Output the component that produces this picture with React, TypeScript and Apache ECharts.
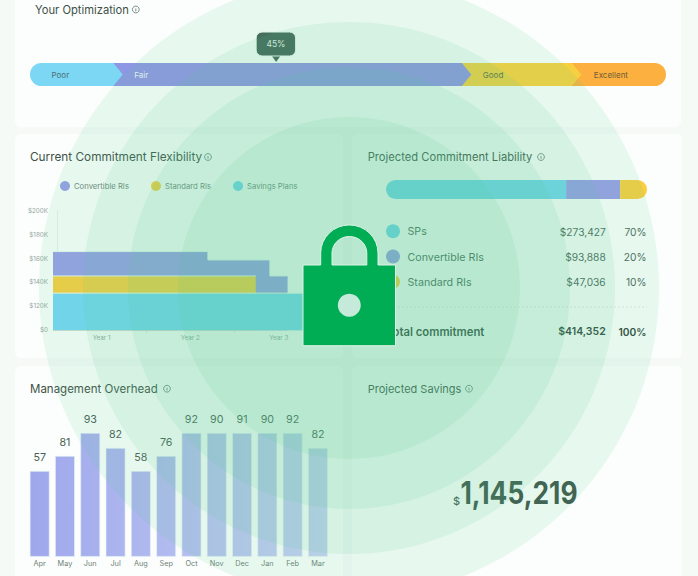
import React, { useEffect, useRef } from "react";
import * as echarts from "echarts";

const FONT = "Inter, 'Noto Sans', sans-serif";

// ---- data
const optimizationNames = ["Poor", "Fair", "Good", "Excellent"];
const optimizationStarts = [0, 13.1, 67.9, 85.2];
const optimizationEnds = [13.1, 67.9, 85.2, 100];
const optimizationColors = ["#7BD7F4", "#8F96E4", "#F6D040", "#FBB040"];
const optimizationTextColors = ["#4F6F72", "#EEF4F6", "#5F6E45", "#6E5E33"];
const optimizationMarker = [38.7];
const optimizationMarkerLabel = "45%";

const flexibilitySeriesNames = ["Convertible RIs", "Standard RIs", "Savings Plans"];
const convertibleSteps = [[-0.05, 165.8], [1.7, 158.8], [2.4, 145.4], [2.6, 145.4]];
const standardSteps = [[-0.05, 145.4], [2.24, 145.4]];
const savingsSteps = [[-0.05, 131], [3, 131]];
const yearLabels = ["Year 1", "Year 2", "Year 3"];
const flexibilityTicks = ["$0", "$120K", "$140K", "$160K", "$180K", "$200K"];

const liabilityNames = ["SPs", "Convertible RIs", "Standard RIs"];
const liabilityShares = [69, 20.7, 10.3];
const liabilityDollars = ["$273,427", "$93,888", "$47,036"];
const liabilityPercents = ["70%", "20%", "10%"];
const totalDollars = "$414,352";
const totalPercent = "100%";

const months = ["Apr", "May", "Jun", "Jul", "Aug", "Sep", "Oct", "Nov", "Dec", "Jan", "Feb", "Mar"];
const overheadLabels = [57, 81, 93, 82, 58, 76, 92, 90, 91, 90, 92, 82];
const overheadHeights = [64.4, 75.7, 93, 81.7, 64.4, 75.7, 93, 93, 93, 93, 93, 81.7];

const savingsTotal = "1,145,219";

const ringRadii = [310, 266, 221, 171];

// ---- colours
const CONV = "#989EE8";
const STD = "#FACE40";
const SAV = "#75D5F4";
const SP = "#74D6F0";
const CARD = "#FBFEFC";
const INK = "#3F5047";
const GREEN = "#00AD55";
const RING = "#56CC94";

echarts.graphic.registerShape(
  "padlock",
  echarts.graphic.extendPath(
    "M303 265 H320.7 V253 A28.65 28 0 0 1 378 253 V265 H395.5 V345.7 H303 Z M332 265 H366.8 V253 A17.4 16.5 0 0 0 332 253 Z",
    {}
  )
);

const text = (
  x: number,
  y: number,
  value: string,
  size: number,
  fill: string,
  weight: number = 400,
  align: string = "left"
) => ({
  type: "text",
  x,
  y,
  z: 10,
  silent: true,
  style: {
    text: value,
    fill,
    font: `${weight} ${size}px ${FONT}`,
    textAlign: align,
    textVerticalAlign: "middle",
  },
});

const card = (x: number, y: number, width: number, height: number) => ({
  type: "rect",
  z: -10,
  silent: true,
  shape: { x, y, width, height, r: 6 },
  style: { fill: CARD },
});

const infoIcon = (cx: number, cy: number) => ({
  type: "group",
  z: 10,
  silent: true,
  children: [
    { type: "circle", z: 10, shape: { cx, cy, r: 3.4 }, style: { fill: "none", stroke: "#5D7267", lineWidth: 0.8 } },
    { type: "line", z: 10, shape: { x1: cx, y1: cy - 1, x2: cx, y2: cy + 1.8 }, style: { stroke: "#5D7267", lineWidth: 0.8 } },
    { type: "circle", z: 10, shape: { cx, cy: cy - 1.9, r: 0.45 }, style: { fill: "#5D7267" } },
  ],
});

const segmentPath = (i: number, x0: number, x1: number, y0: number, y1: number) => {
  const r = (y1 - y0) / 2;
  const tip = 9.5;
  const mid = (y0 + y1) / 2;
  if (i === 0) {
    return `M${x0 + r} ${y0} H${x1} L${x1 + tip} ${mid} L${x1} ${y1} H${x0 + r} A${r} ${r} 0 0 1 ${x0 + r} ${y0} Z`;
  }
  if (i === optimizationNames.length - 1) {
    return `M${x0} ${y0} H${x1 - r} A${r} ${r} 0 0 1 ${x1 - r} ${y1} H${x0} Z`;
  }
  return `M${x0} ${y0} H${x1} L${x1 + tip} ${mid} L${x1} ${y1} H${x0} Z`;
};

const labelOffsets = [21.5, 21, 21, 22];

const buildOption = () => {
  const segmentData = optimizationNames
    .map((_, i) => [optimizationStarts[i], optimizationEnds[i], i])
    .reverse();

  const graphics: any[] = [
    card(15, -12, 666, 139),
    card(15, 134, 328, 224),
    card(352, 134, 330, 224),
    card(15, 366, 328, 230),
    card(352, 366, 330, 230),

    text(35, 9.5, "Your Optimization", 11.2, INK),
    infoIcon(135.8, 9.5),
    text(30, 157, "Current Commitment Flexibility", 11.8, INK),
    infoIcon(208, 157),
    text(367.7, 157, "Projected Commitment Liability", 11.2, INK),
    infoIcon(541, 157),
    text(30, 388.7, "Management Overhead", 11.5, INK),
    infoIcon(167, 388.7),
    text(367.7, 388.7, "Projected Savings", 11, INK),
    infoIcon(469, 388.7),

    { type: "line", z: 10, silent: true, shape: { x1: 386, y1: 307, x2: 647, y2: 307 }, style: { stroke: "#D5E3DC", lineWidth: 0.7, lineDash: [2, 2] } },
    text(386, 331.7, "Total commitment", 11.3, "#31463B", 600),
    text(605.7, 331.7, totalDollars, 10.5, "#31463B", 600, "right"),
    text(646.5, 331.7, totalPercent, 10.2, "#31463B", 600, "right"),

    text(460, 500.5, "$", 11, "#475E52", 500, "right"),
    { ...text(460.5, 492.5, savingsTotal, 31, "#3F574B", 700), scaleX: 0.85 },
  ];

  liabilityNames.forEach((name, i) => {
    const y = 231.7 + i * 25.3;
    graphics.push({
      type: "circle",
      z: 10,
      silent: true,
      shape: { cx: 393, cy: y - 0.5, r: 7 },
      style: { fill: [SP, CONV, STD][i] },
    });
    graphics.push(text(407.5, y, name, 10.7, "#4C665A"));
    graphics.push(text(605.7, y, liabilityDollars[i], 10.2, "#4C665A", 400, "right"));
    graphics.push(text(646.5, y, liabilityPercents[i], 10.2, "#4C665A", 400, "right"));
  });

  ringRadii.forEach((r) => {
    graphics.push({
      type: "circle",
      z: 50,
      silent: true,
      shape: { cx: 349, cy: 288, r },
      style: { fill: RING, opacity: 0.118 },
    });
  });
  graphics.push({
    type: "padlock",
    z: 60,
    silent: true,
    style: { fill: GREEN, stroke: "#DDF2E7", lineWidth: 1 },
  });
  graphics.push({
    type: "circle",
    z: 61,
    silent: true,
    shape: { cx: 349.3, cy: 305.3, r: 11.5 },
    style: { fill: "#C6EAD9" },
  });

  return {
    animation: false,
    backgroundColor: "#F5FAF7",
    textStyle: { fontFamily: FONT },
    graphic: { elements: graphics },
    legend: {
      left: 60,
      top: 181,
      padding: 0,
      itemWidth: 10,
      itemHeight: 10,
      itemGap: 22,
      selectedMode: false,
      icon: "circle",
      data: flexibilitySeriesNames,
      textStyle: { fontSize: 7.7, color: "#70867B", padding: [0, 0, 0, -1] },
    },
    grid: [
      { left: 30, top: 63, width: 636, height: 23 },
      { left: 53, top: 210.7, width: 270, height: 119.5 },
      { left: 386, top: 180, width: 261, height: 19 },
      { left: 27, top: 423.7, width: 303.6, height: 133 },
    ],
    xAxis: [
      { gridIndex: 0, type: "value", min: 0, max: 100, show: false },
      {
        gridIndex: 1,
        type: "value",
        min: -0.05,
        max: 3,
        splitLine: { show: false },
        axisLine: { show: true, onZero: false, lineStyle: { color: "#E3ECE7", width: 0.8 } },
        axisTick: { show: true, customValues: [1, 2], length: 2, lineStyle: { color: "#C9D8D0", width: 0.8 } },
        axisLabel: {
          customValues: [0.5, 1.5, 2.5],
          formatter: (v: number) => yearLabels[Math.floor(v)],
          fontSize: 6.3,
          color: "#93A69C",
          margin: 5,
        },
      },
      { gridIndex: 2, type: "value", min: 0, max: 100, show: false },
      {
        gridIndex: 3,
        type: "category",
        data: months,
        axisLine: { show: false },
        axisTick: { show: false },
        axisLabel: { fontSize: 7.3, color: "#6F8077", margin: 3, interval: 0 },
      },
    ],
    yAxis: [
      { gridIndex: 0, type: "value", min: 0, max: 1, show: false },
      {
        gridIndex: 1,
        type: "value",
        min: 100,
        max: 200,
        interval: 20,
        splitLine: { show: false },
        axisLine: { show: true, lineStyle: { color: "#E3ECE7", width: 0.8 } },
        axisTick: { show: false },
        axisLabel: {
          formatter: (v: number) => flexibilityTicks[(v - 100) / 20],
          fontSize: 6.3,
          color: "#93A69C",
          margin: 5,
        },
      },
      { gridIndex: 2, type: "category", data: ["Liability"], show: false },
      { gridIndex: 3, type: "value", min: 0, max: 100, show: false },
    ],
    series: [
      {
        type: "custom",
        name: "Optimization",
        xAxisIndex: 0,
        yAxisIndex: 0,
        silent: true,
        data: segmentData,
        renderItem: (_p: any, api: any) => {
          const i = api.value(2);
          const a = api.coord([api.value(0), 1]);
          const b = api.coord([api.value(1), 0]);
          const d = segmentPath(i, a[0], b[0], a[1], b[1]);
          const last = i === optimizationNames.length - 1;
          return {
            type: "group",
            children: [
              {
                type: "path",
                shape: {
                  pathData: d,
                  layout: "cover",
                  x: a[0],
                  y: a[1],
                  width: b[0] - a[0] + (last ? 0 : 9.5),
                  height: b[1] - a[1],
                },
                style: { fill: optimizationColors[i] },
              },
              {
                type: "text",
                z2: 5,
                x: a[0] + labelOffsets[i],
                y: (a[1] + b[1]) / 2,
                style: {
                  text: optimizationNames[i],
                  fill: optimizationTextColors[i],
                  font: `400 8px ${FONT}`,
                  textAlign: "left",
                  textVerticalAlign: "middle",
                },
              },
            ],
          };
        },
      },
      {
        type: "custom",
        name: "Marker",
        xAxisIndex: 0,
        yAxisIndex: 0,
        silent: true,
        z: 4,
        data: optimizationMarker.map((v) => [v]),
        renderItem: (_p: any, api: any) => {
          const p = api.coord([api.value(0), 1]);
          const x = p[0];
          const tipY = p[1] - 1;
          return {
            type: "group",
            children: [
              {
                type: "polygon",
                shape: { points: [[x - 5, tipY - 7], [x + 5, tipY - 7], [x, tipY]] },
                style: { fill: "#456255" },
              },
              {
                type: "rect",
                shape: { x: x - 20, y: tipY - 30, width: 39.5, height: 24, r: 6 },
                style: { fill: "#456255", stroke: "#F2FBF6", lineWidth: 1 },
              },
              {
                type: "text",
                x: x - 0.2,
                y: tipY - 18,
                style: {
                  text: optimizationMarkerLabel,
                  fill: "#EAF4EF",
                  font: `400 8.5px ${FONT}`,
                  textAlign: "center",
                  textVerticalAlign: "middle",
                },
              },
            ],
          };
        },
      },
      ...flexibilitySeriesNames.map((name, i) => ({
        type: "line",
        name,
        xAxisIndex: 1,
        yAxisIndex: 1,
        step: "end",
        showSymbol: false,
        symbol: "none",
        silent: true,
        z: 2 + i,
        data: [convertibleSteps, standardSteps, savingsSteps][i],
        itemStyle: { color: [CONV, STD, SAV][i] },
        lineStyle: { color: "#EAF8F2", width: 1 },
        areaStyle: { color: [CONV, STD, SAV][i], opacity: 1, origin: "start" },
      })),
      ...liabilityNames.map((name, i) => ({
        type: "bar",
        name,
        xAxisIndex: 2,
        yAxisIndex: 2,
        stack: "liability",
        barWidth: 19,
        silent: true,
        data: [liabilityShares[i]],
        itemStyle: {
          color: [SP, CONV, STD][i],
          borderRadius: i === 0 ? [9.5, 0, 0, 9.5] : i === 2 ? [0, 9.5, 9.5, 0] : 0,
        },
      })),
      {
        type: "bar",
        name: "Management Overhead",
        xAxisIndex: 3,
        yAxisIndex: 3,
        barWidth: 19.7,
        silent: true,
        data: overheadHeights,
        itemStyle: {
          color: new echarts.graphic.LinearGradient(27, 0, 330, 0, [
            { offset: 0, color: "#9FA7EC" },
            { offset: 1, color: "#C6D2F2" },
          ], true),
          borderColor: "#E8F5F2",
          borderWidth: 0.6,
        },
        label: {
          show: true,
          position: "top",
          distance: 8,
          fontSize: 10.7,
          color: "#4C5F55",
          formatter: (p: any) => String(overheadLabels[p.dataIndex]),
        },
      },
    ],
  };
};

export default function App() {
  const ref = useRef<HTMLDivElement>(null);
  useEffect(() => {
    const chart = echarts.init(ref.current as HTMLDivElement, undefined, { renderer: "svg" });
    chart.setOption(buildOption() as any);
    return () => chart.dispose();
  }, []);
  return (
    <div
      ref={ref}
      style={{ position: "fixed", left: 0, top: 0, width: 698, height: 576 }}
    />
  );
}
